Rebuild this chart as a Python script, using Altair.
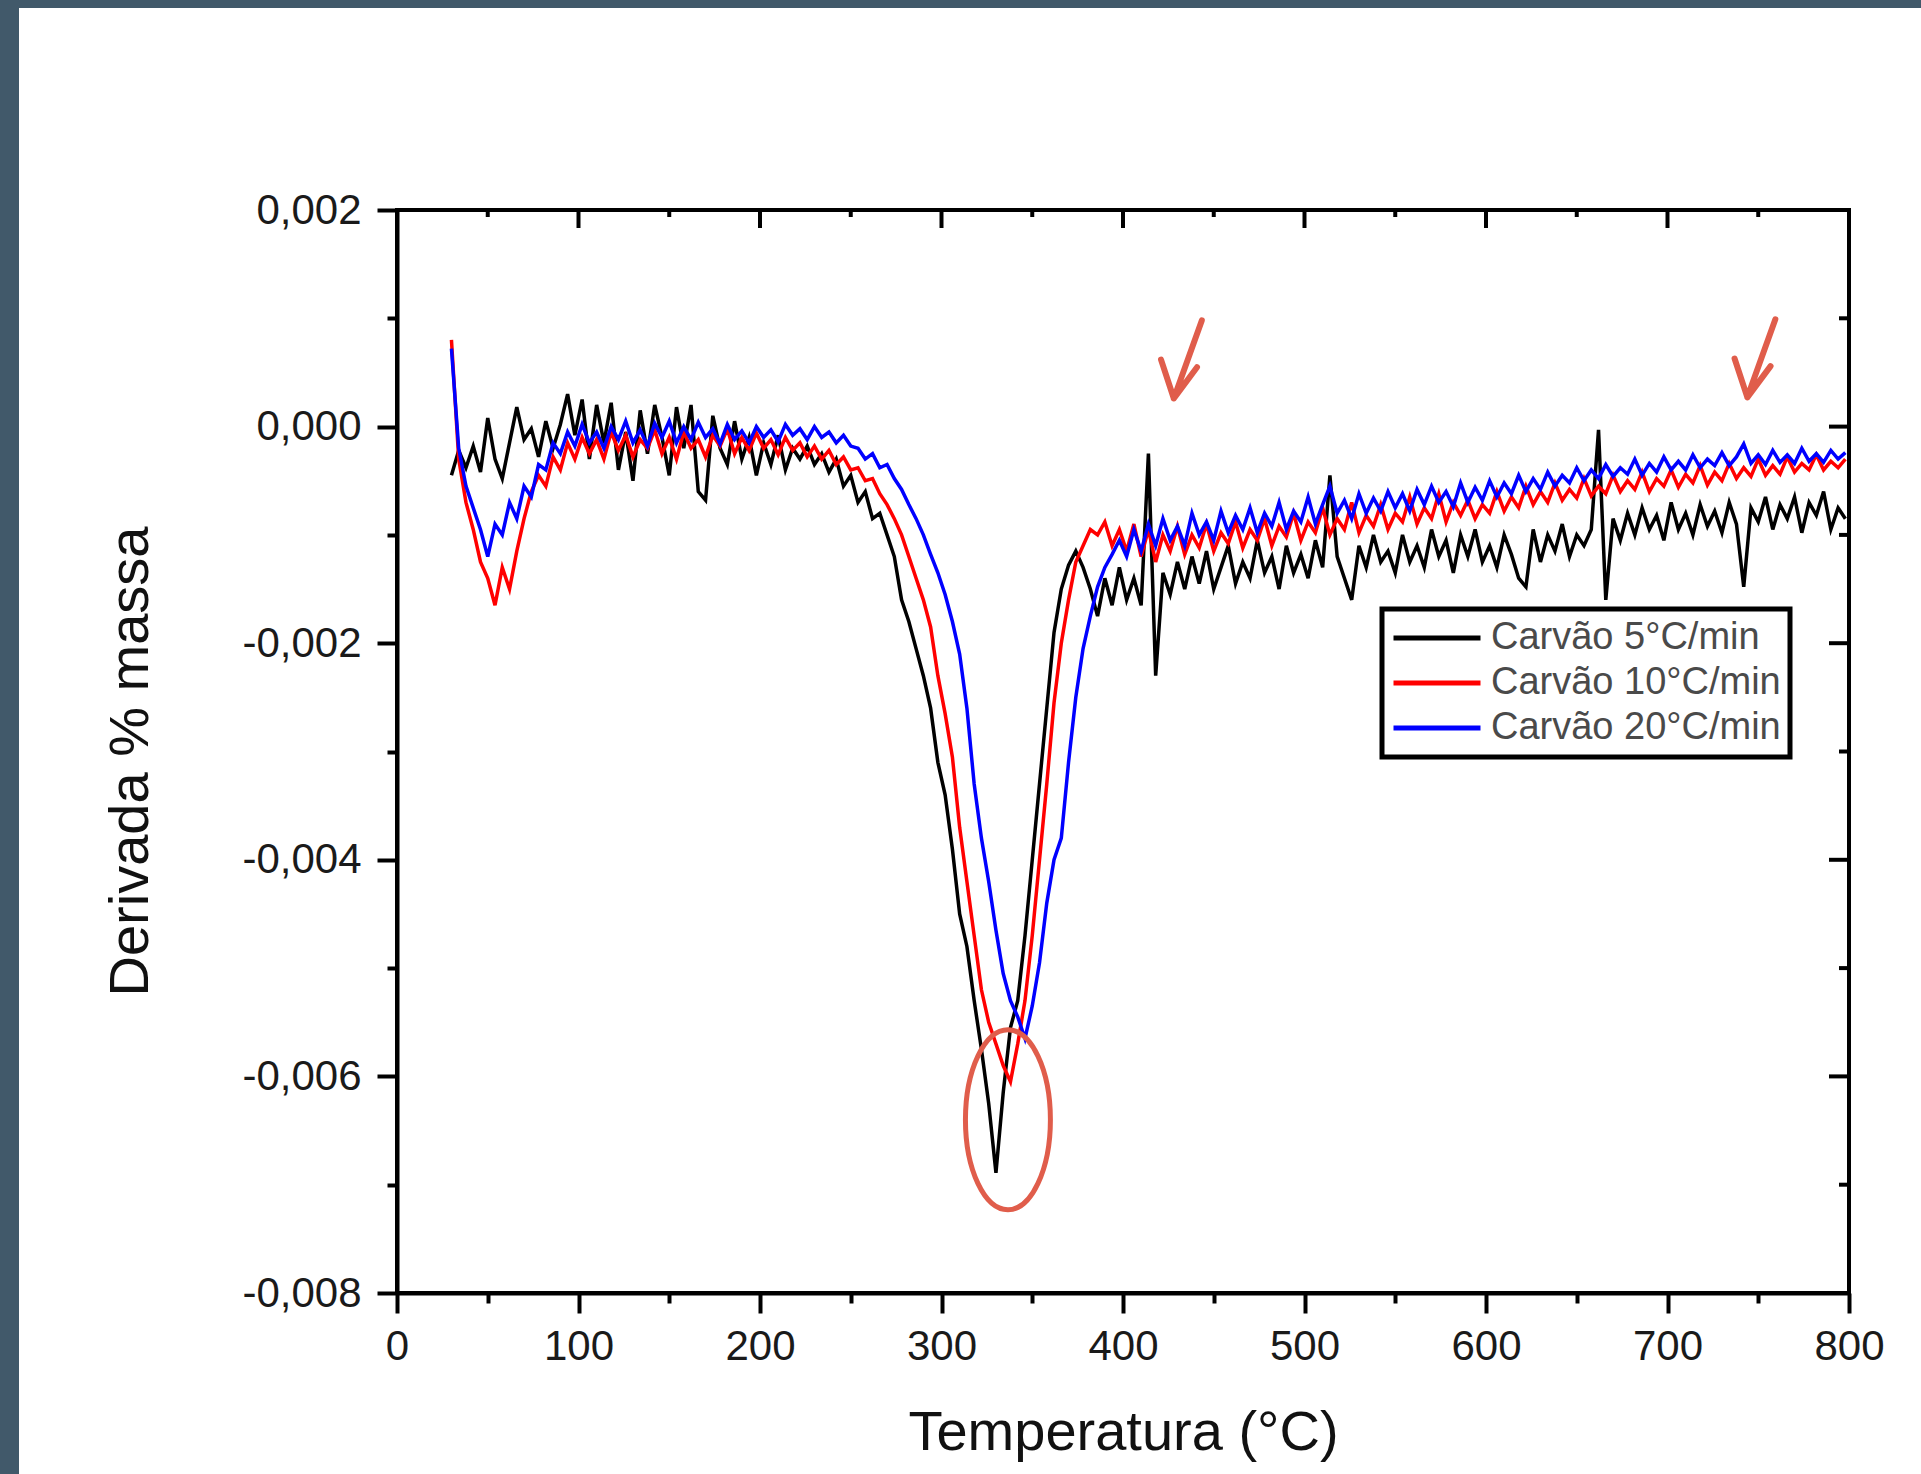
import altair as alt
import pandas as pd

# ---------------- data ----------------
# temperature grid, °C
temperatura = list(range(30, 800, 4))  # 30, 34, ..., 798  (193 points)

# DTG values in units of 1e-5 (% massa / °C)
carvao_5 = [
    -45, -22, -38, -18, -42, 8, -30, -48, -15, 18,
    -12, -2, -28, 5, -20, 2, 30, -8, 25, -30,
    20, -15, 22, -40, -5, -50, 15, -25, 20, -10,
    -45, 18, -20, 20, -60, -68, 10, -20, -35, 5,
    -30, -10, -45, -15, -35, -8, -40, -20, -30, -18,
    -35, -25, -42, -30, -55, -45, -70, -60, -85, -80,
    -100, -120, -160, -180, -205, -230, -260, -310, -340, -390,
    -450, -480, -530, -575, -625, -689, -615, -555, -530, -470,
    -400, -330, -260, -190, -150, -128, -115, -130, -150, -175,
    -140, -165, -130, -160, -140, -165, -25, -230, -135, -155,
    -125, -150, -120, -145, -115, -150, -130, -110, -145, -125,
    -140, -105, -135, -120, -150, -110, -135, -118, -140, -105,
    -130, -45, -120, -140, -160, -110, -130, -100, -125, -115,
    -135, -100, -125, -110, -130, -95, -120, -105, -135, -100,
    -120, -95, -125, -110, -130, -100, -118, -140, -148, -95,
    -125, -100, -115, -90, -120, -100, -110, -95, -3, -160,
    -85, -105, -80, -100, -75, -95, -82, -105, -70, -95,
    -80, -100, -72, -92, -78, -98, -70, -90, -148, -75,
    -88, -65, -95, -72, -85, -65, -98, -70, -82, -60,
    -95, -75, -85,
]
carvao_10 = [
    80, -30, -70, -95, -125, -140, -165, -130, -150, -115,
    -85, -60, -45, -55, -28, -40, -15, -30, -10, -25,
    -12, -30, -5, -22, -8, -28, -12, -20, -3, -25,
    -10, -30, -5, -20, -12, -28, -8, -18, -2, -25,
    -10, -22, -6, -20, -12, -26, -10, -22, -15, -28,
    -18, -30, -22, -35, -28, -40, -38, -50, -48, -62,
    -72, -85, -100, -120, -140, -160, -185, -230, -265, -305,
    -370, -420, -470, -520, -550, -570, -590, -605, -570, -530,
    -470, -400, -330, -255, -200, -160, -125, -110, -95, -100,
    -88, -110, -95, -115, -90, -120, -95, -125, -100, -115,
    -92, -118, -100, -112, -90, -115, -98, -108, -88, -112,
    -95, -105, -85, -110, -92, -102, -80, -105, -88, -98,
    -75, -100, -85, -95, -70, -98, -82, -92, -72, -95,
    -80, -88, -65, -90, -75, -85, -62, -88, -70, -82,
    -68, -85, -72, -80, -60, -78, -65, -75, -55, -72,
    -60, -70, -52, -68, -58, -66, -48, -64, -55, -62,
    -45, -60, -50, -58, -42, -60, -48, -55, -40, -56,
    -44, -52, -36, -54, -42, -50, -34, -48, -38, -46,
    -30, -45, -36, -44, -28, -42, -34, -40, -26, -40,
    -32, -38, -30,
]
carvao_20 = [
    72, -20, -55, -75, -95, -120, -90, -100, -70, -85,
    -55, -65, -35, -40, -15, -25, -5, -18, 2, -15,
    -5, -20, 0, -12, 5, -15, -3, -18, 3, -10,
    5, -15, 0, -12, 4, -10, -2, -16, 2, -12,
    -4, -15, 0, -10, -3, -14, 2, -8, -2, -12,
    0, -10, -5, -15, -8, -18, -20, -30, -25, -38,
    -35, -48, -58, -72, -85, -100, -118, -135, -155, -180,
    -210, -260, -330, -380, -420, -465, -505, -530, -545, -565,
    -535, -495, -440, -400, -380, -310, -250, -205, -175, -148,
    -130, -118, -105, -120, -95, -115, -90, -110, -85, -105,
    -92, -110, -80, -100, -88, -105, -78, -98, -82, -95,
    -75, -98, -80, -92, -70, -95, -78, -88, -65, -90,
    -72, -55, -80, -68, -85, -62, -80, -66, -78, -60,
    -75, -62, -78, -58, -72, -55, -70, -60, -74, -52,
    -70, -56, -68, -50, -65, -52, -62, -45, -60, -48,
    -58, -42, -55, -45, -52, -38, -50, -40, -48, -35,
    -46, -38, -44, -30, -45, -34, -42, -28, -40, -32,
    -40, -26, -38, -30, -36, -24, -36, -28, -16, -34,
    -26, -35, -22, -33, -26, -34, -20, -32, -25, -33,
    -22, -30, -24,
]
UNIT = 1e-5

series_names = ["Carvão 5°C/min", "Carvão 10°C/min", "Carvão 20°C/min"]
series_colors = ["#000000", "#ff0000", "#0000ff"]

# axis ticks
x_major = [0, 100, 200, 300, 400, 500, 600, 700, 800]
x_minor = [50, 150, 250, 350, 450, 550, 650, 750]
y_major = [-0.008, -0.006, -0.004, -0.002, 0.0, 0.002]
y_minor = [-0.007, -0.005, -0.003, -0.001, 0.001]

# hand-drawn annotations (centre of ellipse, tips of arrows)
ellipse_T, ellipse_v = [336.6], [-0.0064]
arrow_T, arrow_v = [428, 744], [0.00026, 0.00027]

# ---------------- build ----------------
rows = []
for name, vals in zip(series_names, [carvao_5, carvao_10, carvao_20]):
    for t, v in zip(temperatura, vals):
        rows.append({"T": t, "v": v * UNIT, "serie": name})
df = pd.DataFrame(rows)

W, H = 1452, 1083
PAD_L, PAD_T, PAD_R, PAD_B = 397, 210, 72, 181
FONT = "Liberation Sans"
ANN = "#e05d4b"
SLATE = "#41596a"

xs = alt.Scale(domain=[0, 800], nice=False, zero=False)
ys = alt.Scale(domain=[-0.008, 0.002], nice=False, zero=False)

x_axis = alt.Axis(
    values=x_major + x_minor,
    title="Temperatura (°C)",
    labelExpr="datum.value % 100 == 0 ? format(datum.value, 'd') : ''",
    tickSize={"condition": {"test": "datum.value % 100 == 0", "value": 20}, "value": 10},
    tickWidth=4, tickColor="black", domainColor="black", domainWidth=4,
    grid=False, labelFont=FONT, labelFontSize=42, labelColor="#1a1a1a",
    labelPadding=13, labelOverlap=False, labelFlush=False,
    titleFont=FONT, titleFontSize=56, titleFontWeight="normal", titleColor="#111111",
    titleY=156, titleBaseline="alphabetic", zindex=1,
)
y_axis = alt.Axis(
    values=y_major + y_minor,
    title="Derivada % massa",
    labelExpr="round(datum.value * 1000) % 2 == 0 ? (datum.value < -0.0000001 ? '-' : '') + replace(format(abs(datum.value), '.3f'), '.', ',') : ''",
    tickSize={"condition": {"test": "round(datum.value * 1000) % 2 == 0", "value": 20}, "value": 10},
    tickWidth=4, tickColor="black", domainColor="black", domainWidth=4,
    grid=False, labelFont=FONT, labelFontSize=42, labelColor="#1a1a1a",
    labelPadding=16, labelOverlap=False, labelFlush=False,
    titleFont=FONT, titleFontSize=56, titleFontWeight="normal", titleColor="#111111",
    titleX=-250, titleY=551, titleBaseline="alphabetic", titleAngle=270, zindex=1,
)

legend = alt.Legend(
    title=None, orient="none", legendX=985, legendY=399, direction="vertical",
    symbolType="stroke", symbolSize=7569, symbolStrokeWidth=5, symbolOpacity=1,
    labelFont=FONT, labelFontSize=38, labelColor="#4a4a4a", labelOffset=8, labelLimit=0,
    strokeColor="black", fillColor="white", padding=9, rowPadding=5, clipHeight=40,
    zindex=1,
)

X = alt.X("T:Q", scale=xs, axis=x_axis)
Y = alt.Y("v:Q", scale=ys, axis=y_axis)

dummy = pd.DataFrame({"a": [0]})

# slate page border (left and top bars)
left_bar = alt.Chart(dummy).mark_rect(color=SLATE).encode(
    x=alt.value(-PAD_L), x2=alt.value(-PAD_L + 19), y=alt.value(-PAD_T), y2=alt.value(H + PAD_B)
)
top_bar = alt.Chart(dummy).mark_rect(color=SLATE).encode(
    x=alt.value(-PAD_L), x2=alt.value(W + PAD_R), y=alt.value(-PAD_T), y2=alt.value(-PAD_T + 8)
)

lines = alt.Chart(df).mark_line(strokeWidth=3.5).encode(
    x=X, y=Y,
    color=alt.Color("serie:N", scale=alt.Scale(domain=series_names, range=series_colors),
                    sort=series_names, legend=legend),
)

frame = alt.Chart(dummy).mark_rect(fillOpacity=0, stroke="black", strokeWidth=4).encode(
    x=alt.value(0), x2=alt.value(W), y=alt.value(0), y2=alt.value(H)
)

top_major = alt.Chart(pd.DataFrame({"T": x_major})).mark_rule(color="black", strokeWidth=4).encode(
    x=X, y=alt.value(0), y2=alt.value(18)
)
top_minor = alt.Chart(pd.DataFrame({"T": x_minor})).mark_rule(color="black", strokeWidth=4).encode(
    x=X, y=alt.value(0), y2=alt.value(7)
)
right_major = alt.Chart(pd.DataFrame({"v": y_major})).mark_rule(color="black", strokeWidth=4).encode(
    y=Y, x=alt.value(W), x2=alt.value(W - 20)
)
right_minor = alt.Chart(pd.DataFrame({"v": y_minor})).mark_rule(color="black", strokeWidth=4).encode(
    y=Y, x=alt.value(W), x2=alt.value(W - 10)
)

ellipse = alt.Chart(pd.DataFrame({"T": ellipse_T, "v": ellipse_v})).mark_point(
    shape="M 0 -1 A 0.472 1 0 1 1 0 1 A 0.472 1 0 1 1 0 -1 Z",
    size=32400, filled=False, stroke=ANN, strokeWidth=5, opacity=1,
).encode(x=X, y=Y)

arrows = alt.Chart(pd.DataFrame({"T": arrow_T, "v": arrow_v})).mark_point(
    shape="M 0.7 -1.95 L 0 0 M -0.32 -0.97 L 0 0 L 0.58 -0.78",
    size=6400, filled=False, stroke=ANN, strokeWidth=6, strokeCap="round",
    strokeJoin="round", opacity=1,
).encode(x=X, y=Y)

chart = alt.layer(
    lines, frame, top_major, top_minor, right_major, right_minor, ellipse, arrows,
    left_bar, top_bar,
).properties(
    width=W, height=H,
    autosize=alt.AutoSizeParams(type="none"),
    padding={"left": PAD_L, "top": PAD_T, "right": PAD_R, "bottom": PAD_B},
    background="white",
).configure_view(strokeWidth=0).configure_legend(strokeWidth=5)

chart.save("out.html", embed_options={"renderer": "svg", "actions": False})
